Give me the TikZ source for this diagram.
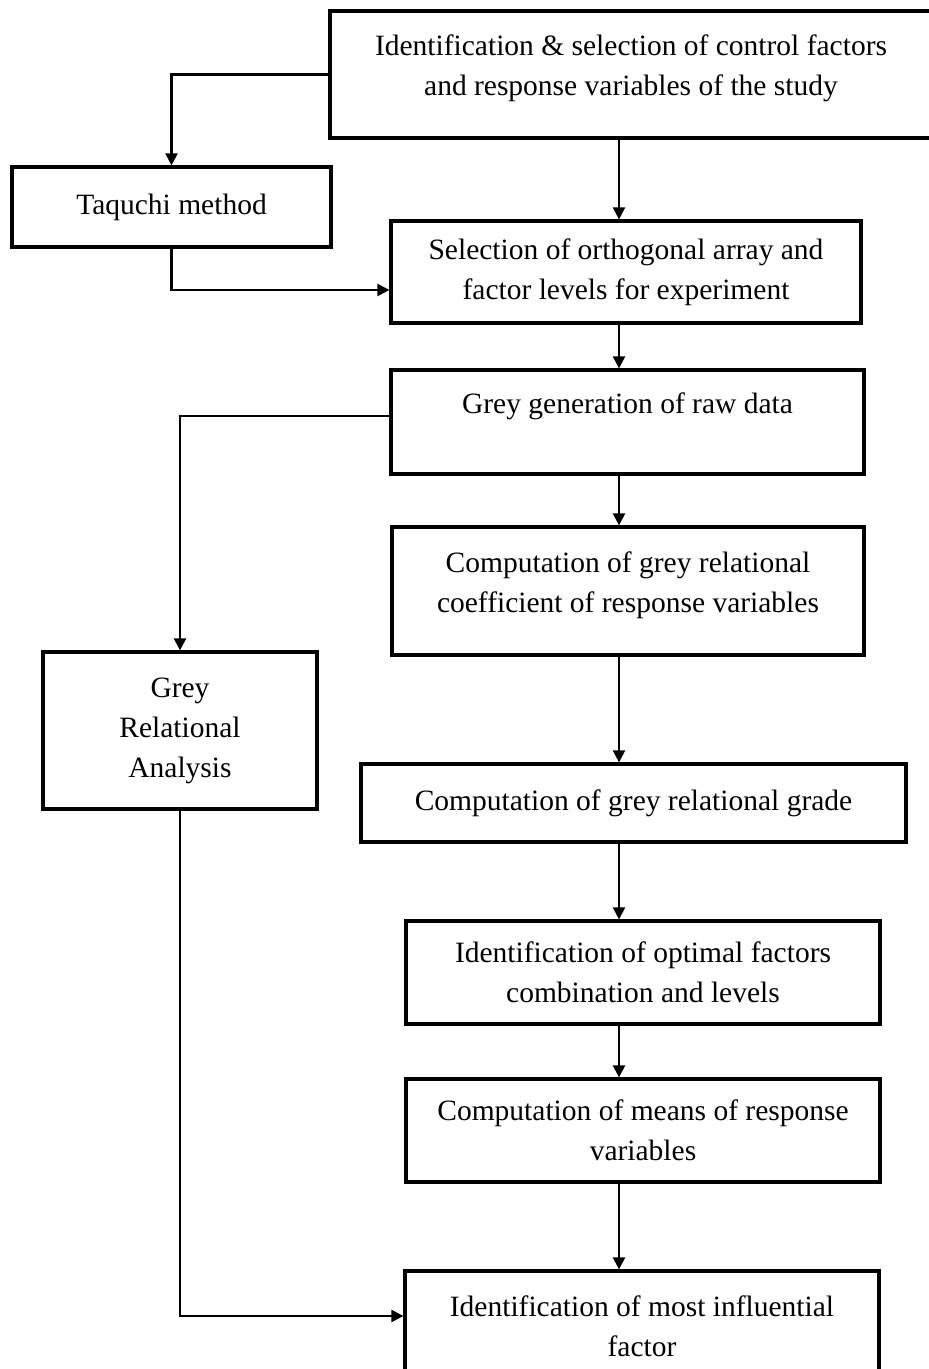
\documentclass[tikz,border=0pt]{standalone}
\usepackage{fontspec}
\setmainfont{Liberation Serif}
\usetikzlibrary{arrows.meta}

\begin{document}
\begin{tikzpicture}[x=0.5pt, y=-0.5pt,
  every node/.style={font=\fontsize{14.75}{20}\selectfont, align=center},
  box/.style={draw, line width=1.6pt, inner sep=0pt},
  arr/.style={-{Triangle[length=6pt, width=6pt]}, line width=1.1pt}]
\useasboundingbox (0,0) rectangle (929,1369);

\coordinate(spine) at (619,0);

\node(ident)[box, minimum width=301pt, minimum height=63.5pt, text depth=9.7pt] at (631,74.5) {Identification \& selection of control factors\\and response variables of the study};
\node(taq)[box, minimum width=159.5pt, minimum height=40pt] at (171.5,207) {Taquchi method};
\node(sel)[box, minimum width=235pt, minimum height=51pt] at (626,272) {Selection of orthogonal array and\\factor levels for experiment};
\node(gen)[box, minimum width=236.5pt, minimum height=52pt, text depth=19.2pt] at (627.5,422) {Grey generation of raw data};
\node(coef)[box, minimum width=236pt, minimum height=64pt, text depth=9.2pt] at (628,591) {Computation of grey relational\\coefficient of response variables};
\node(gra)[box, minimum width=137pt, minimum height=78.5pt] at (180,730.5) {Grey\\Relational\\Analysis};
\node(grade)[box, minimum width=272.5pt, minimum height=39pt] at (633.5,803) {Computation of grey relational grade};
\node(opt)[box, minimum width=237pt, minimum height=51.5pt] at (643,972.5) {Identification of optimal factors\\combination and levels};
\node(means)[box, minimum width=237pt, minimum height=51.5pt] at (643,1130.5) {Computation of means of response\\variables};
\node(infl)[box, minimum width=237pt, minimum height=55pt] at (642,1326) {Identification of most influential\\factor};

\draw[arr] (ident.west) -| (taq.north);
\draw[arr] (ident.south -| spine) -- (sel.north -| spine);
\draw[arr] (taq.south) |- ([yshift=-9pt]sel.west);
\draw[arr] (sel.south -| spine) -- (gen.north -| spine);
\draw[arr] ([yshift=3pt]gen.west) -| (gra.north);
\draw[arr] (gen.south -| spine) -- (coef.north -| spine);
\draw[arr] (coef.south -| spine) -- (grade.north -| spine);
\draw[arr] (grade.south -| spine) -- (opt.north -| spine);
\draw[arr] (opt.south -| spine) -- (means.north -| spine);
\draw[arr] (means.south -| spine) -- (infl.north -| spine);
\draw[arr] (gra.south) |- ([yshift=5pt]infl.west);
\end{tikzpicture}
\end{document}
